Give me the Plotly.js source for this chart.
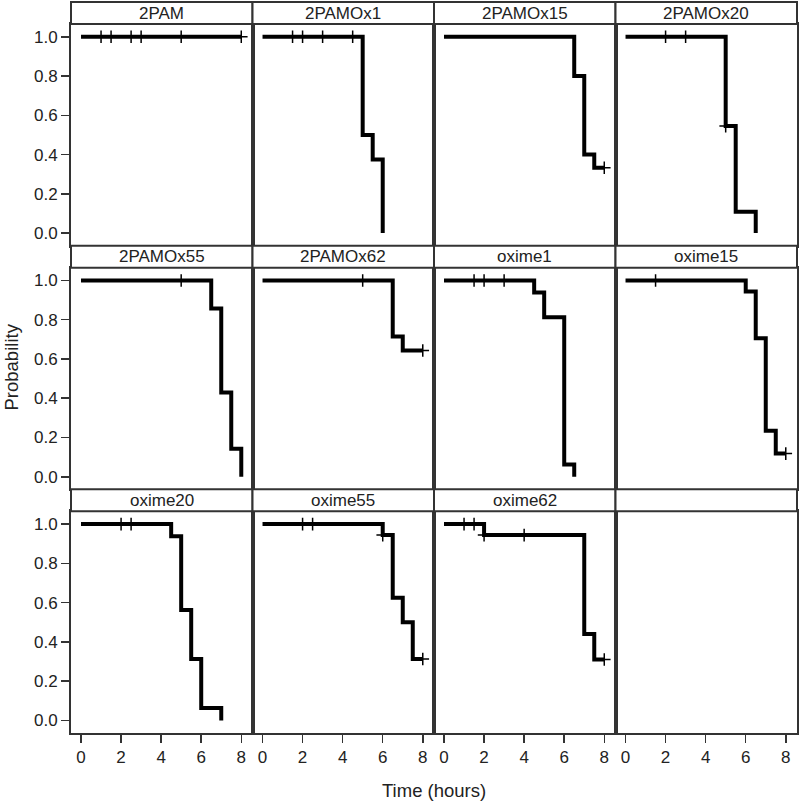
<!DOCTYPE html>
<html>
<head>
<meta charset="utf-8">
<script src="https://cdn.plot.ly/plotly-3.0.1.min.js"></script>
<style>html,body{margin:0;padding:0;background:#fff;}</style>
</head>
<body>
<div id="chart" style="width:800px;height:803px;"></div>
<script>
// Panel names (facets), in reading order
const panelNames = ['2PAM','2PAMOx1','2PAMOx15','2PAMOx20','2PAMOx55','2PAMOx62','oxime1','oxime15','oxime20','oxime55','oxime62',''];

// Kaplan-Meier step points (time in hours, survival probability)
const stepTimes = [
  [0, 8],
  [0, 5, 5.5, 6],
  [0, 6.5, 7, 7.5, 8],
  [0, 5, 5.5, 6.5],
  [0, 6.5, 7, 7.5, 8],
  [0, 6.5, 7, 8],
  [0, 4.5, 5, 6, 6.5],
  [0, 6, 6.5, 7, 7.5, 8],
  [0, 4.5, 5, 5.5, 6, 7],
  [0, 6, 6.5, 7, 7.5, 8],
  [0, 2, 7, 7.5, 8]
];
const stepSurv = [
  [1, 1],
  [1, 0.5, 0.375, 0],
  [1, 0.8, 0.4, 0.333, 0.333],
  [1, 0.545, 0.109, 0],
  [1, 0.857, 0.429, 0.143, 0],
  [1, 0.714, 0.643, 0.643],
  [1, 0.938, 0.813, 0.063, 0],
  [1, 0.944, 0.706, 0.235, 0.118, 0.118],
  [1, 0.938, 0.563, 0.313, 0.063, 0],
  [1, 0.944, 0.625, 0.5, 0.313, 0.313],
  [1, 0.944, 0.44, 0.31, 0.31]
];

// Censored observations
const censorTimes = [
  [1, 1.5, 2.5, 3, 5, 8],
  [1.5, 2, 3, 4.5],
  [8],
  [2, 3, 5],
  [5],
  [5, 8],
  [1.5, 2, 3],
  [1.5, 8],
  [2, 2.5],
  [2, 2.5, 6, 8],
  [1, 1.5, 2, 4, 8]
];
const censorSurv = [
  [1, 1, 1, 1, 1, 1],
  [1, 1, 1, 1],
  [0.333],
  [1, 1, 0.545],
  [1],
  [1, 0.643],
  [1, 1, 1],
  [1, 0.118],
  [1, 1],
  [1, 1, 0.944, 0.313],
  [1, 1, 0.944, 0.944, 0.31]
];

const xTicks = [0, 2, 4, 6, 8];
const yTicks = [0, 0.2, 0.4, 0.6, 0.8, 1.0];
const yTickText = ['0.0', '0.2', '0.4', '0.6', '0.8', '1.0'];

const FONT = 'Liberation Sans, Arial, sans-serif';
const TXT = '#222';
const BORDER = '#333';

const W = 800, H = 803;
const margin = {l: 71, r: 3, t: 2, b: 70};
const plotH = H - margin.t - margin.b; // 731
const rowH = plotH / 3;
const headerH = 22;

const traces = [];
const layout = {
  width: W, height: H, margin: margin,
  paper_bgcolor: '#fff', plot_bgcolor: '#fff',
  showlegend: false,
  font: {family: FONT, color: TXT, size: 17},
  shapes: [], annotations: []
};

for (let i = 0; i < 12; i++) {
  const r = Math.floor(i / 4), c = i % 4;
  const id = i + 1;
  const xa = 'x' + (id === 1 ? '' : id), ya = 'y' + (id === 1 ? '' : id);
  const rowTop = 1 - (r * rowH) / plotH;
  const plotTop = rowTop - headerH / plotH;
  const plotBot = 1 - ((r + 1) * rowH) / plotH;
  const x0 = c * 0.25, x1 = (c + 1) * 0.25;

  layout['xaxis' + (id === 1 ? '' : id)] = {
    domain: [x0, x1], anchor: ya, range: [-0.5, 8.56],
    showgrid: false, zeroline: false, showline: true, mirror: true,
    linecolor: BORDER, linewidth: 2,
    tickvals: xTicks, ticks: r === 2 || i === 11 ? 'outside' : '',
    ticklen: 8, tickwidth: 1.5, tickcolor: BORDER,
    showticklabels: r === 2 || i === 11,
    tickfont: {family: FONT, size: 17, color: TXT}
  };
  layout['yaxis' + (id === 1 ? '' : id)] = {
    domain: [plotBot, plotTop], anchor: xa, range: [-0.064, 1.065],
    showgrid: false, zeroline: false, showline: true, mirror: true,
    linecolor: BORDER, linewidth: 2,
    tickvals: yTicks, ticktext: yTickText,
    ticks: c === 0 ? 'outside' : '', ticklen: 8, tickwidth: 1.5, tickcolor: BORDER,
    showticklabels: c === 0,
    tickfont: {family: FONT, size: 17, color: TXT}
  };

  // header strip
  layout.shapes.push({
    type: 'rect', xref: 'paper', yref: 'paper',
    x0: x0, x1: x1, y0: plotTop, y1: rowTop,
    line: {color: BORDER, width: 2}, fillcolor: '#fff', layer: 'above'
  });
  if (panelNames[i]) {
    layout.annotations.push({
      xref: 'paper', yref: 'paper', x: (x0 + x1) / 2, y: (plotTop + rowTop) / 2,
      text: panelNames[i], showarrow: false, xanchor: 'center', yanchor: 'middle',
      font: {family: FONT, size: 17, color: TXT}
    });
  }

  if (i < 11) {
    traces.push({
      type: 'scatter', mode: 'lines', x: stepTimes[i], y: stepSurv[i],
      xaxis: xa, yaxis: ya, line: {shape: 'hv', color: '#000', width: 4},
      hoverinfo: 'skip'
    });
    traces.push({
      type: 'scatter', mode: 'markers', x: censorTimes[i], y: censorSurv[i],
      xaxis: xa, yaxis: ya,
      marker: {symbol: 'cross-thin-open', size: 9, color: '#000', line: {color: '#000', width: 1.5}},
      hoverinfo: 'skip'
    });
  } else {
    // empty facet: still draw its frame and axis
    traces.push({
      type: 'scatter', mode: 'markers', x: [null], y: [null],
      xaxis: xa, yaxis: ya, hoverinfo: 'skip'
    });
  }
}

layout.annotations.push({
  xref: 'paper', yref: 'paper', x: 0.5, y: 0, yshift: -57,
  text: 'Time (hours)', showarrow: false, xanchor: 'center', yanchor: 'middle',
  font: {family: FONT, size: 18.5, color: TXT}
});
layout.annotations.push({
  xref: 'paper', yref: 'paper', x: 0, xshift: -60, y: 0.5,
  text: 'Probability', showarrow: false, textangle: -90,
  xanchor: 'center', yanchor: 'middle',
  font: {family: FONT, size: 18.5, color: TXT}
});

Plotly.newPlot('chart', traces, layout, {displayModeBar: false, staticPlot: true});
</script>
</body>
</html>
